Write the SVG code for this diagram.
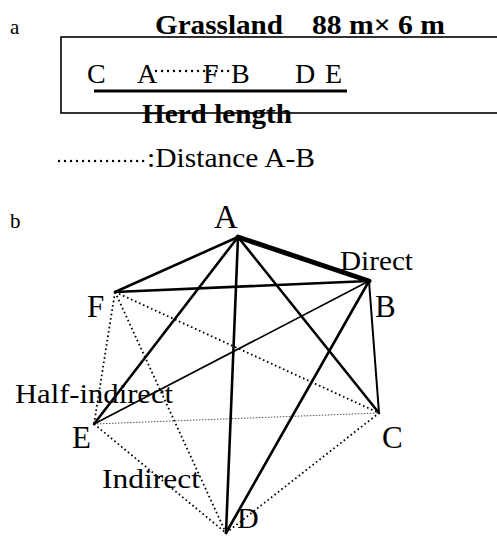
<svg xmlns="http://www.w3.org/2000/svg" width="497" height="536" viewBox="0 0 497 536">
<style>
.t{font-family:"Liberation Serif","Times New Roman",serif;fill:#000}
.b{font-weight:bold}
.s{stroke:#000;fill:none;stroke-linecap:round}
.w5{stroke-width:5}
.w3{stroke-width:2.6}
.w2{stroke-width:2}
.w15{stroke-width:1.6}
.dot{stroke:#000;stroke-width:1.8;stroke-dasharray:1.6 2.8;fill:none}
.fine{stroke:#555;stroke-width:1;stroke-dasharray:1.5 1.5;fill:none}
.ad{stroke:#000;stroke-width:2.4;stroke-dasharray:0.01 6;stroke-linecap:round;fill:none}
</style>
<rect width="497" height="536" fill="#fff"/>
<g id="panel-a">
<text class="t" x="10" y="34" font-size="21">a</text>
<rect x="61" y="37" width="460" height="76" fill="none" stroke="#000" stroke-width="1.6"/>
<text class="t b" x="155" y="34" font-size="28" textLength="128" lengthAdjust="spacingAndGlyphs">Grassland</text>
<text class="t b" x="312" y="34" font-size="28" textLength="133" lengthAdjust="spacingAndGlyphs">88 m× 6 m</text>
<text class="t" x="87" y="83" font-size="28">C</text>
<text class="t" x="137" y="83" font-size="28">A</text>
<text class="t" x="203" y="83" font-size="28">F</text>
<text class="t" x="231" y="83" font-size="28">B</text>
<text class="t" x="295" y="83" font-size="28">D</text>
<text class="t" x="325" y="83" font-size="28">E</text>
<line class="ad" x1="156" y1="71" x2="234" y2="71"/>
<line x1="94" y1="91" x2="347" y2="91" stroke="#000" stroke-width="3.2"/>
<text class="t b" x="142" y="123" font-size="28" textLength="150" lengthAdjust="spacingAndGlyphs">Herd length</text>
<line class="ad" x1="59" y1="161" x2="145" y2="161"/>
<text class="t" x="147" y="167" font-size="28" textLength="168" lengthAdjust="spacingAndGlyphs">:Distance A-B</text>
</g>
<g id="panel-b">
<text class="t" x="10" y="228" font-size="21">b</text>
<g id="connectors">
<line class="dot" x1="115" y1="292" x2="94" y2="424"/>
<line class="dot" x1="115" y1="292" x2="226" y2="533"/>
<line class="dot" x1="115" y1="292" x2="379" y2="413"/>
<line class="dot" x1="94" y1="424" x2="226" y2="533"/>
<line class="dot" x1="226" y1="533" x2="379" y2="413"/>
<line class="fine" x1="94" y1="424" x2="379" y2="413"/>
<line class="s w3" x1="238" y1="237" x2="115" y2="292"/>
<line class="s w3" x1="238" y1="237" x2="94" y2="424"/>
<line class="s w3" x1="238" y1="237" x2="226" y2="533"/>
<line class="s w3" x1="238" y1="237" x2="379" y2="413"/>
<line class="s w3" x1="115" y1="292" x2="369" y2="281"/>
<line class="s w3" x1="369" y1="281" x2="226" y2="533"/>
<line class="s w2" x1="369" y1="281" x2="379" y2="413"/>
<line class="s w15" x1="369" y1="281" x2="94" y2="424"/>
<line class="s w5" x1="238" y1="237" x2="369" y2="281"/>
</g>
<g id="node-A"><text class="t" x="214" y="228" font-size="33">A</text></g>
<g id="node-B"><text class="t" x="375" y="317" font-size="31">B</text></g>
<g id="node-F"><text class="t" x="87" y="317" font-size="31">F</text></g>
<g id="node-E"><text class="t" x="72" y="448" font-size="31">E</text></g>
<g id="node-C"><text class="t" x="382" y="448" font-size="31">C</text></g>
<g id="node-D"><text class="t" x="237" y="528" font-size="30">D</text></g>
<text class="t" x="340" y="270" font-size="27" textLength="73" lengthAdjust="spacingAndGlyphs">Direct</text>
<text class="t" x="15" y="403" font-size="27" textLength="158" lengthAdjust="spacingAndGlyphs">Half-indirect</text>
<text class="t" x="102" y="488" font-size="27" textLength="98" lengthAdjust="spacingAndGlyphs">Indirect</text>
</g>
</svg>
